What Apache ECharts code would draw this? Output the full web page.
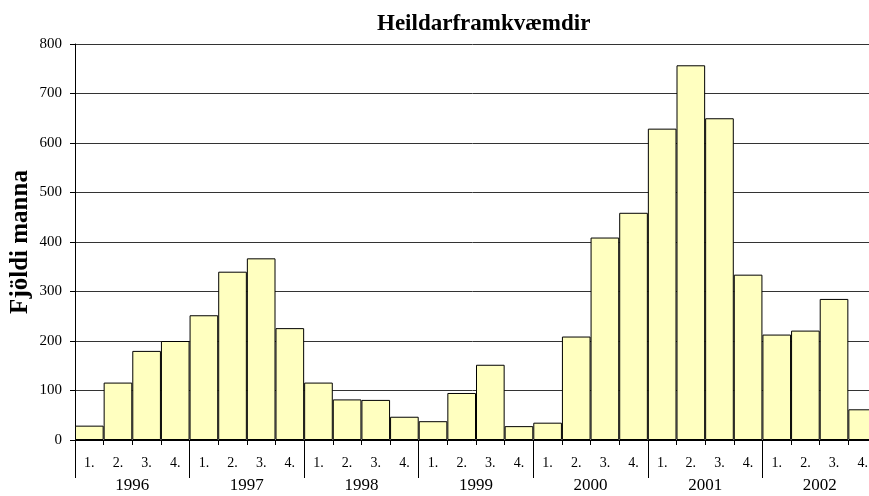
<!DOCTYPE html>
<html>
<head>
<meta charset="utf-8">
<script src="https://cdn.jsdelivr.net/npm/echarts@6/dist/echarts.min.js"></script>
<style>
  html, body { margin: 0; padding: 0; background: #fff; }
  #chart { width: 869px; height: 496px; }
</style>
</head>
<body>
<div id="chart"></div>
<script>
// ársfjórðungar og ár
const years = ['1996', '1997', '1998', '1999', '2000', '2001', '2002'];
const quarters = ['1.', '2.', '3.', '4.'];
const yTicks = [0, 100, 200, 300, 400, 500, 600, 700, 800];

// fjöldi manna, eftir ársfjórðungum
const values1996 = [29, 116, 180, 200];
const values1997 = [252, 340, 367, 226];
const values1998 = [116, 82, 81, 47];
const values1999 = [38, 95, 152, 28];
const values2000 = [35, 209, 409, 459];
const values2001 = [629, 757, 650, 334];
const values2002 = [213, 221, 285, 62];

const allValues = [].concat(values1996, values1997, values1998, values1999, values2000, values2001, values2002);
const quarterLabels = [];
years.forEach(() => quarters.forEach(q => quarterLabels.push(q)));

const serif = '"Liberation Serif", "DejaVu Serif", serif';

const chart = echarts.init(document.getElementById('chart'), null, { renderer: 'canvas' });
const option = {
    animation: false,
    title: {
        text: 'Heildarframkvæmdir',
        left: 372,
        top: 8,
        textStyle: { fontFamily: serif, fontSize: 23, fontWeight: 'bold', color: '#000' }
    },
    grid: { left: 75, right: -8, top: 44, bottom: 56, containLabel: false, outerBoundsMode: 'none' },
    xAxis: [{
        type: 'category',
        data: quarterLabels,
        position: 'bottom',
        boundaryGap: true,
        axisLine: { show: true, lineStyle: { color: '#000', width: 1 } },
        axisTick: { show: true, length: 5, interval: 0, lineStyle: { color: '#000' } },
        axisLabel: { interval: 0, margin: 16, fontFamily: serif, fontSize: 14, color: '#000' },
        splitLine: { show: false }
    }, {
        type: 'category',
        data: years,
        position: 'bottom',
        boundaryGap: true,
        axisLine: { show: false },
        axisTick: { show: true, length: 38, interval: 0, lineStyle: { color: '#000' } },
        axisLabel: { interval: 0, margin: 37, fontFamily: serif, fontSize: 17, color: '#000' },
        splitLine: { show: false }
    }],
    yAxis: {
        type: 'value',
        min: yTicks[0],
        max: yTicks[yTicks.length - 1],
        interval: 100,
        name: 'Fjöldi manna',
        nameLocation: 'middle',
        nameGap: 42,
        nameMoveOverlap: false,
        nameTextStyle: { fontFamily: serif, fontSize: 25, fontWeight: 'bold', color: '#000' },
        axisLine: { show: true, lineStyle: { color: '#000', width: 1 } },
        axisTick: { show: true, length: 5, lineStyle: { color: '#000' } },
        axisLabel: { margin: 13, fontFamily: serif, fontSize: 15, color: '#000' },
        splitLine: { show: true, lineStyle: { color: '#333', width: 1 } }
    },
    series: [{
        type: 'bar',
        xAxisIndex: 0,
        data: allValues,
        barCategoryGap: '0%',
        itemStyle: { color: '#FFFFC0', borderColor: '#000', borderWidth: 1 }
    }]
};
chart.setOption(option);
</script>
</body>
</html>
